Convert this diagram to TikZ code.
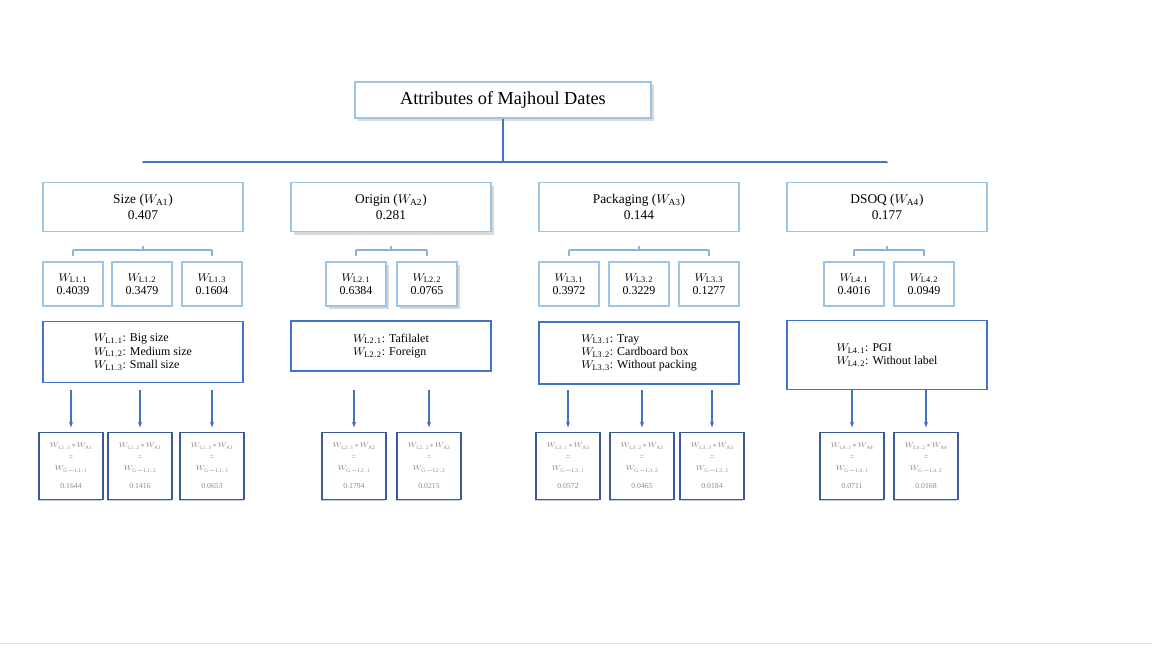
\documentclass[tikz,border=0pt]{standalone}
\usepackage{fontspec}
\setmainfont{Liberation Serif}
\usetikzlibrary{arrows.meta,shadows}
\definecolor{lineblue}{HTML}{4472C4}
\definecolor{paleblue}{HTML}{9DC3E6}
\definecolor{darkblue}{HTML}{3A5A9A}
\tikzset{
  attr/.style={rectangle,draw=paleblue,line width=1.2pt,fill=white,minimum width=5cm,minimum height=1.22cm,inner sep=1pt,align=center,font=\fontsize{9.5}{11}\selectfont},
  sub/.style={rectangle,draw=paleblue,line width=1.2pt,fill=white,minimum width=1.5cm,minimum height=1.1cm,inner sep=1pt,align=center,font=\fontsize{8.5}{9.5}\selectfont},
  lvl/.style={rectangle,draw=lineblue,line width=1pt,fill=white,minimum width=5cm,inner sep=2pt,align=left,font=\fontsize{8.5}{9.5}\selectfont},
  glob/.style={rectangle,draw=darkblue,line width=1.2pt,fill=white,minimum width=1.6cm,minimum height=1.68cm,inner sep=1pt,align=center,text=black!45,font=\fontsize{5.5}{8}\selectfont,drop shadow={shadow xshift=-1pt,shadow yshift=-1pt,fill=darkblue!50,opacity=0.6}},
  link/.style={lineblue,line width=0.9pt},
  arr/.style={lineblue,line width=0.8pt,-{Stealth[length=4pt]}}
}
\newcommand{\gw}[3]{$W_{\mathrm{L#1}}{*}W_{\mathrm{A#2}}$\\=\\$W_{\mathrm{G{-}L#1}}$\\[5pt]#3}
\begin{document}
\begin{tikzpicture}[x=0.025cm,y=-0.025cm]
  \useasboundingbox (0,0) rectangle (1152,648);
  \draw[black!12] (0,643) -- (1152,643);
  \node[rectangle,draw=paleblue,line width=1.2pt,minimum width=7.4cm,minimum height=0.9cm,font=\fontsize{13}{15}\selectfont,drop shadow={opacity=0.3},fill=white] (root) at (503,100) {Attributes of Majhoul Dates};
  % attributes
  \node[attr] (A1) at (143,207) {Size ($W_{\mathrm{A1}}$)\\0.407};
  \node[attr,drop shadow={opacity=0.3}] (A2) at (391,207) {Origin ($W_{\mathrm{A2}}$)\\0.281};
  \node[attr] (A3) at (639,207) {Packaging ($W_{\mathrm{A3}}$)\\0.144};
  \node[attr] (A4) at (887,207) {DSOQ ($W_{\mathrm{A4}}$)\\0.177};
  \coordinate (bus) at (503,162);
  \draw[link] (root.south) -- (bus);
  \draw[link] (bus -| A1.north) -- (bus -| A4.north);
  \foreach \a in {A1,A2,A3,A4}
    \draw[link,shorten >=13pt] (bus -| \a.north) -- (\a.north);
  % local weights
  \node[sub] (L11) at (73,284) {$W_{\mathrm{L1.1}}$\\0.4039};
  \node[sub] (L12) at (142,284) {$W_{\mathrm{L1.2}}$\\0.3479};
  \node[sub] (L13) at (212,284) {$W_{\mathrm{L1.3}}$\\0.1604};
  \node[sub,drop shadow={opacity=0.3}] (L21) at (356,284) {$W_{\mathrm{L2.1}}$\\0.6384};
  \node[sub,drop shadow={opacity=0.3}] (L22) at (427,284) {$W_{\mathrm{L2.2}}$\\0.0765};
  \node[sub] (L31) at (569,284) {$W_{\mathrm{L3.1}}$\\0.3972};
  \node[sub] (L32) at (639,284) {$W_{\mathrm{L3.2}}$\\0.3229};
  \node[sub] (L33) at (709,284) {$W_{\mathrm{L3.3}}$\\0.1277};
  \node[sub] (L41) at (854,284) {$W_{\mathrm{L4.1}}$\\0.4016};
  \node[sub] (L42) at (924,284) {$W_{\mathrm{L4.2}}$\\0.0949};
  \foreach \a/\f/\l in {A1/L11/L13,A2/L21/L22,A3/L31/L33,A4/L41/L42} {
    \draw[link,paleblue!80!lineblue,shorten <=10pt] (\a.south) -- (\a.south |- 0,250);
    \draw[link,paleblue!80!lineblue] (\f.north |- 0,250) -- (\l.north |- 0,250);
    \draw[link,paleblue!80!lineblue,shorten >=4pt] (\f.north |- 0,250) -- (\f.north);
    \draw[link,paleblue!80!lineblue,shorten >=4pt] (\l.north |- 0,250) -- (\l.north);
  }
  % levels
  \node[lvl,minimum height=1.52cm] (V1) at (143,352) {$W_{\mathrm{L1.1}}$: Big size\\$W_{\mathrm{L1.2}}$: Medium size\\$W_{\mathrm{L1.3}}$: Small size};
  \node[lvl,minimum height=1.25cm] (V2) at (391,346) {$W_{\mathrm{L2.1}}$: Tafilalet\\$W_{\mathrm{L2.2}}$: Foreign};
  \node[lvl,minimum height=1.55cm] (V3) at (639,353) {$W_{\mathrm{L3.1}}$: Tray\\$W_{\mathrm{L3.2}}$: Cardboard box\\$W_{\mathrm{L3.3}}$: Without packing};
  \node[lvl,minimum height=1.72cm] (V4) at (887,355) {$W_{\mathrm{L4.1}}$: PGI\\$W_{\mathrm{L4.2}}$: Without label};
  % global weights
  \node[glob] (G11) at (71,466) {\gw{1.1}{1}{0.1644}};
  \node[glob] (G12) at (140,466) {\gw{1.2}{1}{0.1416}};
  \node[glob] (G13) at (212,466) {\gw{1.3}{1}{0.0653}};
  \node[glob] (G21) at (354,466) {\gw{2.1}{2}{0.1794}};
  \node[glob] (G22) at (429,466) {\gw{2.2}{2}{0.0215}};
  \node[glob] (G31) at (568,466) {\gw{3.1}{3}{0.0572}};
  \node[glob] (G32) at (642,466) {\gw{3.2}{3}{0.0465}};
  \node[glob] (G33) at (712,466) {\gw{3.3}{3}{0.0184}};
  \node[glob] (G41) at (852,466) {\gw{4.1}{4}{0.0711}};
  \node[glob] (G42) at (926,466) {\gw{4.2}{4}{0.0168}};
  \foreach \v/\g in {V1/G11,V1/G12,V1/G13,V2/G21,V2/G22,V3/G31,V3/G32,V3/G33,V4/G41,V4/G42}
    \draw[arr,shorten >=3pt] (\g.north |- 0,390) -- (\g.north);
\end{tikzpicture}
\end{document}
